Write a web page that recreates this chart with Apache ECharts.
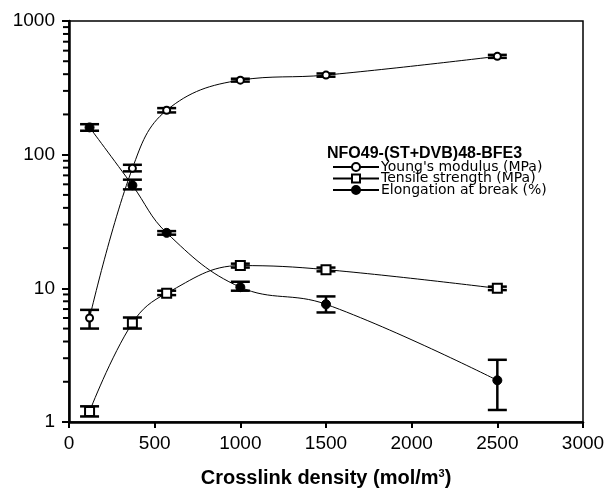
<!DOCTYPE html>
<html><head><meta charset="utf-8">
<script src="https://cdn.jsdelivr.net/npm/echarts@6/dist/echarts.min.js"></script>
<style>html,body{margin:0;padding:0;background:#fff}#c{width:608px;height:496px}</style>
</head><body><div id="c"></div>
<script>
const xs = [120, 370, 570, 1000, 1500, 2500];
const seriesNames = ['Young\'s modulus (MPa)', 'Tensile strength (MPa)', 'Elongation at break (%)'];
const youngs = [6.0, 79, 215, 361, 394, 544];
const youngsLo = [5.0, 75, 207, 352, 383, 530];
const youngsHi = [6.9, 84, 223, 370, 405, 558];
const tensile = [1.2, 5.5, 9.2, 14.8, 13.8, 10.0];
const tensileLo = [1.10, 5.0, 8.9, 14.3, 13.4, 9.7];
const tensileHi = [1.31, 6.05, 9.6, 15.3, 14.3, 10.3];
const elong = [160, 59, 26.0, 10.2, 7.6, 2.05];
const elongLo = [151, 55, 25.2, 9.6, 6.6, 1.23];
const elongHi = [169, 65, 26.8, 11.2, 8.7, 2.92];
const yTicks = [1, 10, 100, 1000];
const minorTicks = [];
[1, 10, 100].forEach(d => { for (let k = 2; k <= 9; k++) minorTicks.push([0, d * k]); });

const font = '"Liberation Sans", Arial, sans-serif';
const legendFont = '"DejaVu Sans", sans-serif';
const pts = (ys) => xs.map((x, i) => [x, ys[i]]);
const errData = (lo, hi) => xs.map((x, i) => [x, lo[i], hi[i]]);

function errRender(params, api) {
  const x = api.value(0);
  const lo = api.coord([x, api.value(1)]);
  const hi = api.coord([x, api.value(2)]);
  const w = 9.5;
  const st = { stroke: '#000', lineWidth: 2.5 };
  return { type: 'group', children: [
    { type: 'line', shape: { x1: lo[0], y1: lo[1], x2: hi[0], y2: hi[1] }, style: st },
    { type: 'line', shape: { x1: lo[0] - w, y1: lo[1], x2: lo[0] + w, y2: lo[1] }, style: st },
    { type: 'line', shape: { x1: hi[0] - w, y1: hi[1], x2: hi[0] + w, y2: hi[1] }, style: st }
  ]};
}

const legendTops = [160, 171.4, 183];
const legends = seriesNames.map((n, i) => ({
  data: [n], orient: 'vertical', left: 332, top: legendTops[i], itemWidth: 46, itemHeight: 10, padding: 0,
  textStyle: { fontFamily: legendFont, fontSize: 14, color: '#000', padding: [0, 0, 0, -3] }
}));

const chart = echarts.init(document.getElementById('c'));
chart.setOption({
  animation: false,
  backgroundColor: '#fff',
  textStyle: { fontFamily: font, color: '#000' },
  grid: { left: 69, right: 25, top: 21, bottom: 74, show: true, borderColor: '#000', borderWidth: 1.5, backgroundColor: 'transparent' },
  title: { text: 'NFO49-(ST+DVB)48-BFE3', left: 322, top: 141, textStyle: { fontFamily: font, fontSize: 16, fontWeight: 'bold', color: '#000' } },
  legend: legends,
  xAxis: {
    type: 'value', min: 0, max: 3000, interval: 500,
    name: 'Crosslink density (mol/m{sup|3})', nameLocation: 'middle', nameGap: 46,
    nameTextStyle: { fontFamily: font, fontSize: 20, fontWeight: 'bold', color: '#000', rich: { sup: { fontSize: 11, fontWeight: 'bold', verticalAlign: 'top', padding: [0, 0, 9, 0], fontFamily: font } } },
    axisLine: { lineStyle: { color: '#000', width: 2.5 } },
    axisTick: { inside: false, length: 6, lineStyle: { color: '#000', width: 2 } },
    axisLabel: { fontFamily: font, fontSize: 19, color: '#000', margin: 12, formatter: v => String(v) },
    splitLine: { show: false }
  },
  yAxis: {
    type: 'log', logBase: 10, min: 1, max: 1000,
    axisLine: { lineStyle: { color: '#000', width: 2.5 } },
    axisTick: { inside: false, length: 7, lineStyle: { color: '#000', width: 2 } },
    axisLabel: { fontFamily: font, fontSize: 19, color: '#000', margin: 14, formatter: v => String(v) },
    splitLine: { show: false }
  },
  series: [
    { type: 'scatter', name: 'minor', data: minorTicks, clip: false, silent: true, z: 1,
      symbol: 'rect', symbolSize: [6, 2], symbolOffset: [-3, 0],
      itemStyle: { color: '#000', opacity: 1 } },
    { type: 'custom', name: 'errY', data: errData(youngsLo, youngsHi), renderItem: errRender, z: 3, encode: { x: 0, y: [1, 2] } },
    { type: 'custom', name: 'errT', data: errData(tensileLo, tensileHi), renderItem: errRender, z: 3, encode: { x: 0, y: [1, 2] } },
    { type: 'custom', name: 'errE', data: errData(elongLo, elongHi), renderItem: errRender, z: 3, encode: { x: 0, y: [1, 2] } },
    { type: 'line', name: seriesNames[0], data: pts(youngs), smooth: 0.4, z: 5,
      symbol: 'circle', symbolSize: 7, lineStyle: { color: '#000', width: 1 },
      itemStyle: { color: '#fff', borderColor: '#000', borderWidth: 2 } },
    { type: 'line', name: seriesNames[1], data: pts(tensile), smooth: 0.4, z: 5,
      symbol: 'rect', symbolSize: 9, lineStyle: { color: '#000', width: 1 },
      itemStyle: { color: '#fff', borderColor: '#000', borderWidth: 2 } },
    { type: 'line', name: seriesNames[2], data: pts(elong), smooth: 0.4, z: 5,
      symbol: 'circle', symbolSize: 9, lineStyle: { color: '#000', width: 1 },
      itemStyle: { color: '#000', borderColor: '#000', borderWidth: 1 } }
  ]
});
</script></body></html>
